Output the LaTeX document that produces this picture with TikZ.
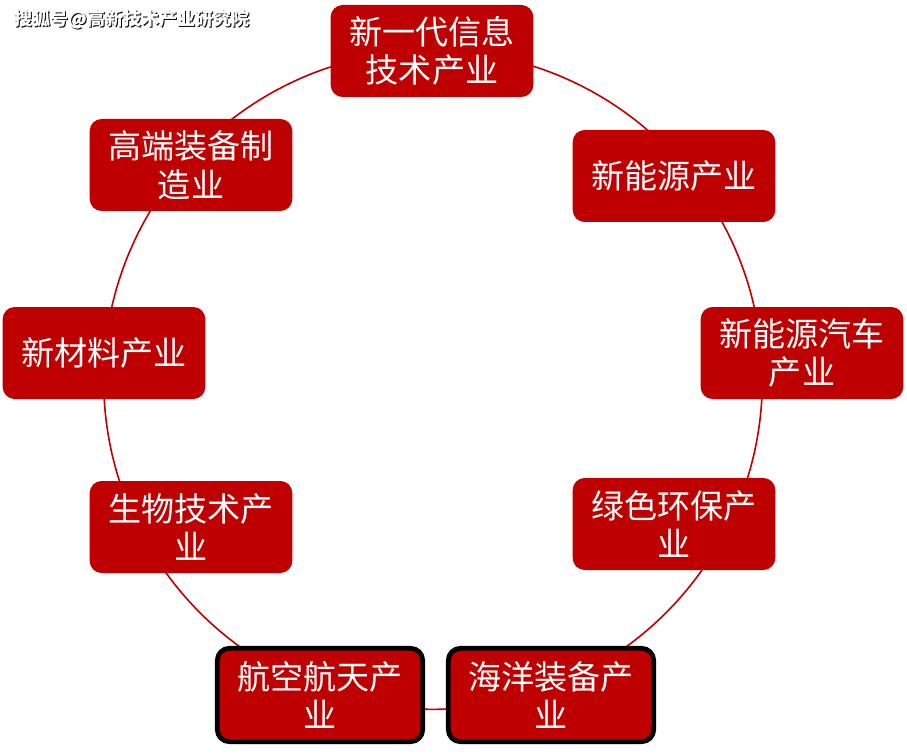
\documentclass[tikz,border=0pt]{standalone}
\usepackage{fontspec}
\newfontfamily\cjk{Noto Sans CJK SC}
\usetikzlibrary{positioning}
\definecolor{BoxClr}{rgb}{0.75,0,0}

\tikzset{
  indbox/.style={rectangle,rounded corners=9pt,fill=BoxClr,text=white,
    minimum width=152pt,minimum height=69pt,align=center,inner sep=0pt,
    font=\cjk\fontsize{24.8}{29}\selectfont},
  framed/.style={draw=black,line width=3.6pt,minimum width=154pt,minimum height=70pt}
}

\begin{document}
\begin{tikzpicture}[x=0.75pt,y=-0.75pt]
\useasboundingbox (0,0) rectangle (907,756);

% ring
\draw[BoxClr,line width=1.2pt] (433,380) circle [radius=247pt];

% the industries
\node[indbox] (info)  at (432,51)  {新一代信息\\技术产业};
\node[indbox] (nrg)   at (674,176) {新能源产业};
\node[indbox] (car)   at (802,353) {新能源汽车\\产业};
\node[indbox] (green) at (674,524) {绿色环保产\\业};
\node[indbox,framed] (sea)   at (551,695) {海洋装备产\\业};
\node[indbox,framed] (space) at (320,695) {航空航天产\\业};
\node[indbox] (bio)   at (191,527) {生物技术产\\业};
\node[indbox] (mat)   at (104,353) {新材料产业};
\node[indbox] (equip) at (191,165) {高端装备制\\造业};

% watermark
\node[anchor=west,inner sep=0pt,text=black,font=\cjk\bfseries\fontsize{13.5}{16}\selectfont] (wm0) at (15.6,20.6) {搜狐号@高新技术产业研究院};
\node[anchor=west,inner sep=0pt,text=white,font=\cjk\bfseries\fontsize{13.5}{16}\selectfont] (wm) at (14,19) {搜狐号@高新技术产业研究院};

\end{tikzpicture}
\end{document}
